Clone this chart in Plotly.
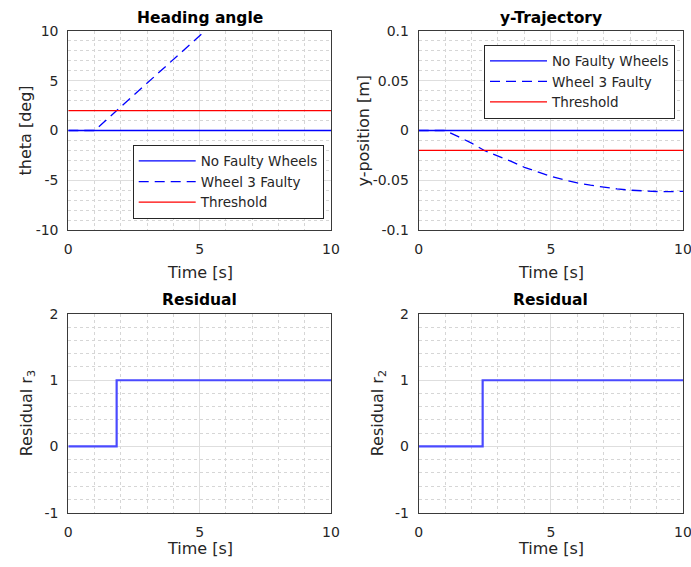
import plotly.graph_objects as go

# ---- data -------------------------------------------------------------
t_span = [0, 10]

# heading angle [deg]
theta_nominal = [0, 0]
theta_threshold = [2, 2]
t_theta_fault = [0, 1.0, 2.0, 3.0, 4.0, 5.0, 6.0]
theta_fault = [0, 0, 2.38, 4.76, 7.14, 9.52, 11.9]

# lateral position [m]
y_nominal = [0, 0]
y_threshold = [-0.02, -0.02]
t_y_fault = [0, 1.0, 1.5, 2.0, 2.5, 3.0, 3.5, 4.0, 4.5, 5.0,
             5.5, 6.0, 6.5, 7.0, 7.5, 8.0, 8.5, 9.0, 9.5, 10.0]
y_fault = [0, 0, -0.0062, -0.0127, -0.0203, -0.0253, -0.031, -0.037, -0.0418, -0.046,
           -0.0495, -0.0527, -0.055, -0.057, -0.0587, -0.060, -0.0608, -0.0613, -0.0614, -0.0612]

# residual flags (step at detection time)
t_r3 = [0, 1.84, 1.84, 10]
r3 = [0, 0, 1, 1]
t_r2 = [0, 2.42, 2.42, 10]
r2 = [0, 0, 1, 1]

# tick positions and labels
time_ticks = [0, 5, 10]
time_labels = ["0", "5", "10"]
theta_ticks = [-10, -5, 0, 5, 10]
theta_labels = ["-10", "-5", "0", "5", "10"]
ypos_ticks = [-0.1, -0.05, 0, 0.05, 0.1]
ypos_labels = ["-0.1", "-0.05", "0", "0.05", "0.1"]
res_ticks = [-1, 0, 1, 2]
res_labels = ["-1", "0", "1", "2"]

# ---- styling ----------------------------------------------------------
W, H = 691, 567
FONT = "DejaVu Sans"
TXT = "#262626"
BLUE = "#0000ff"
RED = "#ff0000"
RES_BLUE = "#4a4aff"

def px_x(p):
    return p / W

def px_y(p):
    return 1 - p / H

col_x = [(68.3, 331.0), (418.7, 683.0)]
row_y = [(31.0, 230.0), (314.0, 512.7)]

fig = go.Figure()

# top-left: heading angle
fig.add_trace(go.Scatter(x=t_span, y=theta_nominal, mode="lines", name="No Faulty Wheels",
                         line=dict(color=BLUE, width=1.3), xaxis="x", yaxis="y", legend="legend"))
fig.add_trace(go.Scatter(x=t_theta_fault, y=theta_fault, mode="lines", name="Wheel 3 Faulty",
                         line=dict(color=BLUE, width=1.3, dash="10px,6px"), xaxis="x", yaxis="y", legend="legend"))
fig.add_trace(go.Scatter(x=t_span, y=theta_threshold, mode="lines", name="Threshold",
                         line=dict(color=RED, width=1.3), xaxis="x", yaxis="y", legend="legend"))

# top-right: y-trajectory
fig.add_trace(go.Scatter(x=t_span, y=y_nominal, mode="lines", name="No Faulty Wheels",
                         line=dict(color=BLUE, width=1.3), xaxis="x2", yaxis="y2", legend="legend2"))
fig.add_trace(go.Scatter(x=t_y_fault, y=y_fault, mode="lines", name="Wheel 3 Faulty",
                         line=dict(color=BLUE, width=1.3, dash="10px,6px"), xaxis="x2", yaxis="y2", legend="legend2"))
fig.add_trace(go.Scatter(x=t_span, y=y_threshold, mode="lines", name="Threshold",
                         line=dict(color=RED, width=1.3), xaxis="x2", yaxis="y2", legend="legend2"))

# bottom: residuals
fig.add_trace(go.Scatter(x=t_r3, y=r3, mode="lines", showlegend=False,
                         line=dict(color=RES_BLUE, width=2.2), xaxis="x3", yaxis="y3"))
fig.add_trace(go.Scatter(x=t_r2, y=r2, mode="lines", showlegend=False,
                         line=dict(color=RES_BLUE, width=2.2), xaxis="x4", yaxis="y4"))

def axis(domain, rng, tickvals, ticktext, minor_dtick, anchor):
    return dict(
        domain=domain, range=rng, tickmode="array", tickvals=tickvals, ticktext=ticktext,
        anchor=anchor,
        showline=True, mirror=True, linecolor="#3a3a3a", linewidth=1,
        showgrid=True, gridcolor="#dedede", gridwidth=1, zeroline=False,
        ticks="", ticklabelstandoff=6, automargin=False, ticklabeloverflow="allow",
        tickfont=dict(family=FONT, size=14, color=TXT),
        minor=dict(dtick=minor_dtick, tick0=rng[0], showgrid=True,
                   gridcolor="#d6d6d6", griddash="dot", gridwidth=1),
        fixedrange=True,
    )

layout_axes = {}
specs = [
    ("", 0, 0, [-10, 10], theta_ticks, theta_labels, 1),
    ("2", 1, 0, [-0.1, 0.1], ypos_ticks, ypos_labels, 0.01),
    ("3", 0, 1, [-1, 2], res_ticks, res_labels, 0.2),
    ("4", 1, 1, [-1, 2], res_ticks, res_labels, 0.2),
]
for suf, c, r, yr, yv, yt, ymin in specs:
    xd = [px_x(col_x[c][0]), px_x(col_x[c][1])]
    yd = [px_y(row_y[r][1]), px_y(row_y[r][0])]
    layout_axes["xaxis" + suf] = axis(xd, [0, 10], time_ticks, time_labels, 1, "y" + suf)
    layout_axes["yaxis" + suf] = axis(yd, yr, yv, yt, ymin, "x" + suf)

fig.update_layout(**layout_axes)

# subplot titles and axis labels
titles = ["Heading angle", "y-Trajectory", "Residual", "Residual"]
title_y = [17.5, 17.5, 300.0, 300.0]
ylabels = ["theta [deg]", "y-position [m]", "Residual r<sub>3</sub>", "Residual r<sub>2</sub>"]
ylabel_x = [25.0, 363.0, 27.0, 378.0]
xlabel_y = [273.0, 273.0, 548.0, 548.0]

ann = []
for i, (c, r) in enumerate([(0, 0), (1, 0), (0, 1), (1, 1)]):
    cx = (col_x[c][0] + col_x[c][1]) / 2
    cy = (row_y[r][0] + row_y[r][1]) / 2
    ann.append(dict(text="<b>%s</b>" % titles[i], x=px_x(cx), y=px_y(title_y[i]),
                    xref="paper", yref="paper", xanchor="center", yanchor="middle",
                    showarrow=False, font=dict(family=FONT, size=15.5, color="#000000")))
    ann.append(dict(text="Time [s]", x=px_x(cx), y=px_y(xlabel_y[i]),
                    xref="paper", yref="paper", xanchor="center", yanchor="middle",
                    showarrow=False, font=dict(family=FONT, size=16, color=TXT)))
    ann.append(dict(text=ylabels[i], x=px_x(ylabel_x[i]), y=px_y(cy), textangle=-90,
                    xref="paper", yref="paper", xanchor="center", yanchor="middle",
                    showarrow=False, font=dict(family=FONT, size=16, color=TXT)))

legend_style = dict(xanchor="left", yanchor="top", bgcolor="white",
                    bordercolor="#262626", borderwidth=1, itemwidth=57,
                    font=dict(family=FONT, size=13.5, color=TXT), tracegroupgap=0)

fig.update_layout(
    width=W, height=H,
    margin=dict(l=0, r=0, t=0, b=0, pad=0, autoexpand=False),
    paper_bgcolor="white", plot_bgcolor="white",
    annotations=ann,
    legend=dict(x=px_x(132.7), y=px_y(144.7), **legend_style),
    legend2=dict(x=px_x(484.0), y=px_y(44.5), **legend_style),
)

fig.write_html("out.html")
